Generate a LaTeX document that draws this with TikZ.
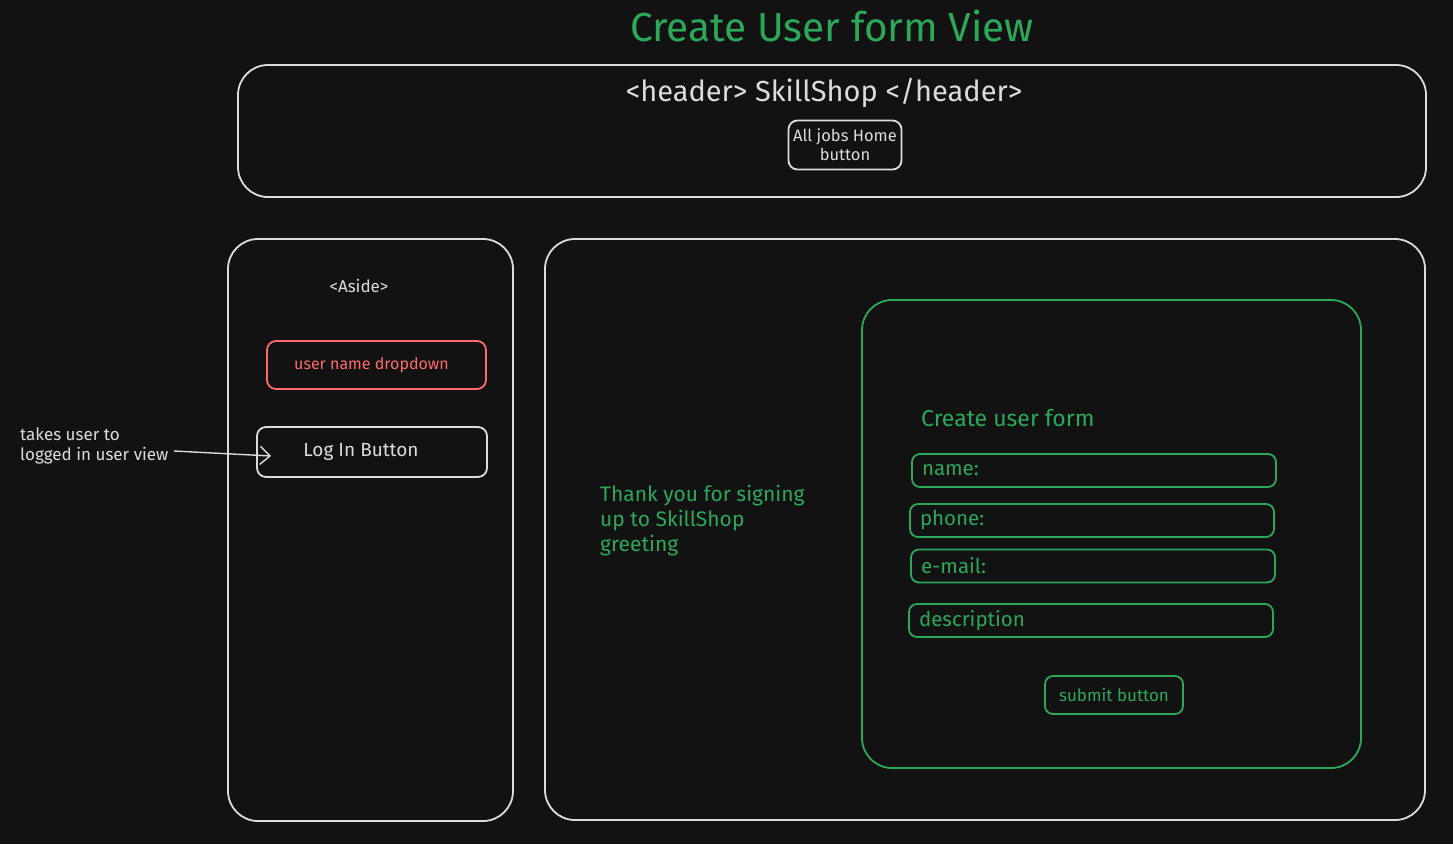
\documentclass[tikz,border=0pt]{standalone}
\usepackage{fontspec}
\setmainfont{Fira Sans}
\usetikzlibrary{arrows.meta}
\definecolor{bg}{HTML}{121212}
\definecolor{ink}{HTML}{DCDCDC}
\definecolor{leaf}{HTML}{2CA85A}
\definecolor{coral}{HTML}{FF6B6B}
\begin{document}
\begin{tikzpicture}[x=1pt,y=-1pt,
  panel/.style={draw=ink, line width=1.8pt, rounded corners=30pt, inner sep=0pt},
  btn/.style={draw=ink, line width=1.8pt, rounded corners=9pt, inner sep=0pt, text=ink, align=center},
  greenpanel/.style={draw=leaf, line width=1.8pt, rounded corners=30pt, inner sep=0pt},
  field/.style={draw=leaf, line width=1.8pt, rounded corners=8pt, minimum width=364pt, minimum height=33pt,
    inner xsep=10pt, text width=344pt, align=left, text=leaf, font=\fontsize{20.5}{24}\selectfont},
  plain/.style={inner sep=0pt, text=ink},
  greentext/.style={inner sep=0pt, text=leaf},
  arr/.style={draw=ink, line width=1.4pt, -{Straight Barb[length=10pt, width=18pt, line width=1.4pt]}}
]
\fill[bg] (0,0) rectangle (1453,844);
\useasboundingbox (0,0) rectangle (1453,844);

% title
\node[greentext, font=\fontsize{40.5}{44}\selectfont] (title) at (832,26) {Create User form View};

% header band
\node[panel, minimum width=1188pt, minimum height=132pt] (header) at (832,131) {};
\node[plain, font=\fontsize{29}{32}\selectfont] (headtext) at (824,93) {<header> SkillShop </header>};
\node[btn, minimum width=113pt, minimum height=49pt, font=\fontsize{16.5}{19}\selectfont] (homebtn) at (845,145) {All jobs Home\\button};

% aside column
\node[panel, minimum width=285pt, minimum height=582pt] (aside) at (370.5,530) {};
\node[plain, font=\fontsize{17}{20}\selectfont] (asidetext) at (359,286) {<Aside>};
\node[draw=coral, line width=1.8pt, rounded corners=9pt, minimum width=219pt, minimum height=48pt,
      text=coral, font=\fontsize{16}{19}\selectfont] (dropdown) at (376.5,365) {\raisebox{-4pt}{user name dropdown}\hspace*{10pt}};
\node[btn, minimum width=230pt, minimum height=50pt, font=\fontsize{19}{22}\selectfont] (login) at (372,452) {Log In Button\hspace*{22pt}};

% note with arrow into the log-in button
\node[plain, anchor=west, align=left, font=\fontsize{17}{20}\selectfont] (note) at (20,446) {takes user to\\logged in user view};
\coordinate (notetail) at (174,451);
\draw[arr] (notetail) -- ([xshift=15pt,yshift=-4pt]login.west);

% main area
\node[panel, minimum width=880pt, minimum height=581pt] (main) at (985,529.5) {};
\node[greentext, anchor=north west, align=left, font=\fontsize{21}{25}\selectfont] (greeting) at (600,485) {Thank you for signing\\up to SkillShop\\greeting};

% user form
\node[greenpanel, minimum width=499pt, minimum height=468pt] (form) at (1111.5,534) {};
\node[greentext, anchor=west, font=\fontsize{23}{26}\selectfont] (formtitle) at (921,418) {Create user form};
\node[field] (fname) at (1094,470.5) {name:};
\node[field] (fphone) at (1092,520.5) {phone:};
\node[field] (femail) at (1093,566) {e-mail:};
\node[field] (fdesc) at (1091,620.5) {description};
\node[draw=leaf, line width=1.8pt, rounded corners=8pt, minimum width=138pt, minimum height=38pt,
      text=leaf, font=\fontsize{17}{20}\selectfont] (submit) at (1114,695) {submit button};
\end{tikzpicture}
\end{document}
